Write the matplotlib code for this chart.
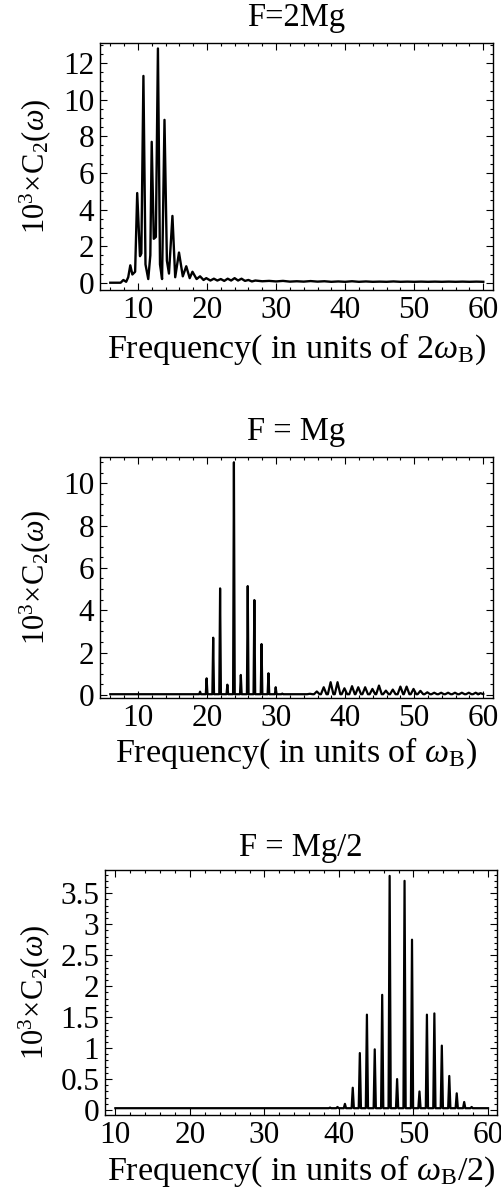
import matplotlib.pyplot as plt
from matplotlib.ticker import MultipleLocator, FuncFormatter

plt.rcParams['font.family'] = ['Liberation Serif', 'DejaVu Serif']
plt.rcParams['mathtext.fontset'] = 'custom'
plt.rcParams['mathtext.rm'] = 'Liberation Serif'
plt.rcParams['mathtext.it'] = 'Liberation Serif:italic'

# F = 2Mg : traced spectrum, peaks and valleys
freq_2mg = [6.0, 7.5, 7.9, 8.3, 8.6, 8.9, 9.2, 9.6, 9.9, 10.3, 10.5, 10.8,
            11.1, 11.5, 11.8, 12.0, 12.3, 12.6, 12.9, 13.2, 13.5, 13.85,
            14.2, 14.5, 15.0, 15.4, 15.95, 16.5, 17.0, 17.5, 17.9, 18.5,
            19.0, 19.5, 19.9, 20.5, 21.0, 21.5, 22.0, 22.5, 23.0, 23.5,
            24.0, 24.5, 25.0, 25.5, 26.0, 26.5, 27.0, 28.0, 29.0, 30.0,
            31.0, 32.0, 33.0, 34.0, 35.0, 36.0, 37.0, 38.0, 39.0, 40.0,
            41.0, 42.0, 43.0, 44.0, 45.0, 46.0, 47.0, 48.0, 49.0, 50.0,
            51.0, 52.0, 53.0, 54.0, 55.0, 56.0, 57.0, 58.0, 59.0, 60.0]
c2_2mg = [0.0, 0.0, 0.15, 0.05, 0.3, 0.95, 0.45, 0.6, 4.9, 1.45, 1.6, 11.3,
          1.0, 0.2, 1.5, 7.7, 2.4, 2.5, 12.8, 1.0, 0.2, 8.9,
          1.2, 0.5, 3.65, 0.3, 1.65, 0.35, 0.9, 0.25, 0.6, 0.2,
          0.35, 0.15, 0.25, 0.12, 0.22, 0.12, 0.2, 0.1, 0.22, 0.12,
          0.25, 0.12, 0.22, 0.1, 0.15, 0.07, 0.12, 0.08, 0.1, 0.07,
          0.1, 0.06, 0.08, 0.06, 0.09, 0.06, 0.08, 0.05, 0.07, 0.05,
          0.08, 0.05, 0.07, 0.05, 0.06, 0.05, 0.07, 0.05, 0.06, 0.05,
          0.06, 0.05, 0.06, 0.05, 0.06, 0.05, 0.06, 0.05, 0.06, 0.05]

# F = Mg : sharp lines plus a band of weak ripples
lines_mg = [19.0, 19.95, 20.9, 21.9, 22.95, 23.9, 24.9, 25.9, 26.86, 27.9,
            28.9, 29.95, 30.9]
heights_mg = [0.15, 0.78, 2.7, 5.03, 0.48, 10.99, 0.94, 5.14, 4.48, 2.4,
              1.02, 0.36, 0.06]
ripples_mg = [34.9, 35.9, 36.9, 37.9, 38.9, 39.9, 41.0, 41.9, 42.9, 43.95,
              44.9, 45.9, 46.9, 48.0, 48.9, 49.9, 50.9, 51.9, 52.9, 53.9,
              54.9, 55.9, 56.9, 57.9, 58.9, 59.6]
ripple_heights_mg = [0.05, 0.16, 0.36, 0.6, 0.6, 0.31, 0.41, 0.36, 0.36, 0.28,
                     0.44, 0.2, 0.25, 0.39, 0.39, 0.28, 0.19, 0.12, 0.1, 0.1,
                     0.1, 0.1, 0.1, 0.1, 0.1, 0.08]

# F = Mg/2
lines_half = [37.8, 38.8, 39.8, 40.8, 41.85, 42.8, 43.75, 44.8, 45.8, 46.8,
              47.8, 48.8, 49.8, 50.8, 51.8, 52.8, 53.8, 54.8, 55.8, 56.8,
              57.8]
heights_half = [0.03, 0.04, 0.05, 0.1, 0.36, 0.92, 1.54, 0.98, 1.86, 3.78,
                0.5, 3.7, 2.75, 0.3, 1.54, 1.56, 1.04, 0.55, 0.27, 0.13,
                0.05]


def spike_path(start, stop, centres, heights, half_widths, floor):
    xs, ys = [start], [floor]
    for c, h, w in zip(centres, heights, half_widths):
        xs += [c - w, c, c + w]
        ys += [floor, h, floor]
    xs.append(stop)
    ys.append(floor)
    return xs, ys


def style(ax, xmajor, xminor, ymajor, yminor):
    ax.xaxis.set_major_locator(MultipleLocator(xmajor))
    ax.xaxis.set_minor_locator(MultipleLocator(xminor))
    ax.yaxis.set_major_locator(MultipleLocator(ymajor))
    ax.yaxis.set_minor_locator(MultipleLocator(yminor))
    ax.yaxis.set_major_formatter(FuncFormatter(lambda v, p: f'{v:g}'))
    ax.tick_params(which='both', direction='in', top=True, right=True,
                   labelsize=22.5, width=0.8)
    ax.tick_params(which='major', length=5, pad=4)
    ax.tick_params(which='minor', length=2.5)
    for s in ax.spines.values():
        s.set_linewidth(1.0)


fig = plt.figure(figsize=(5.02, 12.01), dpi=100)
ylab = r'$10^3\!\times\!\mathrm{C}_2(\omega)$'

ax1 = fig.add_axes([0.199, 0.7585, 0.783, 0.2057])
ax1.plot(freq_2mg, c2_2mg, color='black', lw=1.7)
ax1.set_xlim(4.5, 61.4)
ax1.set_ylim(-0.4, 13.1)
style(ax1, 10, 2, 2, 0.5)
ax1.set_title('F=2Mg', fontsize=23.5, pad=12)
ax1.set_xlabel(r'Frequency( in units of 2$\omega_{\mathrm{B}}$)', fontsize=24.5,
               labelpad=5)
ax1.set_ylabel(ylab, fontsize=22)
ax1.yaxis.set_label_coords(-0.12, 0.5)

ax2 = fig.add_axes([0.199, 0.4188, 0.783, 0.2007])
x2, y2 = spike_path(6.0, 60.0,
                    lines_mg + ripples_mg,
                    heights_mg + ripple_heights_mg,
                    [0.12] * len(lines_mg) + [0.4] * len(ripples_mg),
                    0.03)
ax2.plot(x2, y2, color='black', lw=1.6)
ax2.set_xlim(4.5, 61.4)
ax2.set_ylim(-0.15, 11.24)
style(ax2, 10, 2, 2, 0.5)
ax2.set_title('F = Mg', fontsize=23.5, pad=12)
ax2.set_xlabel(r'Frequency( in units of $\omega_{\mathrm{B}}$)', fontsize=24.5,
               labelpad=2)
ax2.set_ylabel(ylab, fontsize=22)
ax2.yaxis.set_label_coords(-0.12, 0.5)

ax3 = fig.add_axes([0.209, 0.0716, 0.781, 0.204])
x3, y3 = spike_path(10.0, 60.0, lines_half, heights_half,
                    [0.15] * len(lines_half), 0.03)
ax3.plot(x3, y3, color='black', lw=1.6)
ax3.set_xlim(8.6, 61.2)
ax3.set_ylim(-0.08, 3.875)
style(ax3, 10, 2, 0.5, 0.1)
ax3.set_title('F = Mg/2', fontsize=23.5, pad=10)
ax3.set_xlabel(r'Frequency( in units of $\omega_{\mathrm{B}}$/2)', fontsize=24.5,
               labelpad=3)
ax3.set_ylabel(ylab, fontsize=22)
ax3.yaxis.set_label_coords(-0.135, 0.5)

fig.savefig('out.png', dpi=100)
